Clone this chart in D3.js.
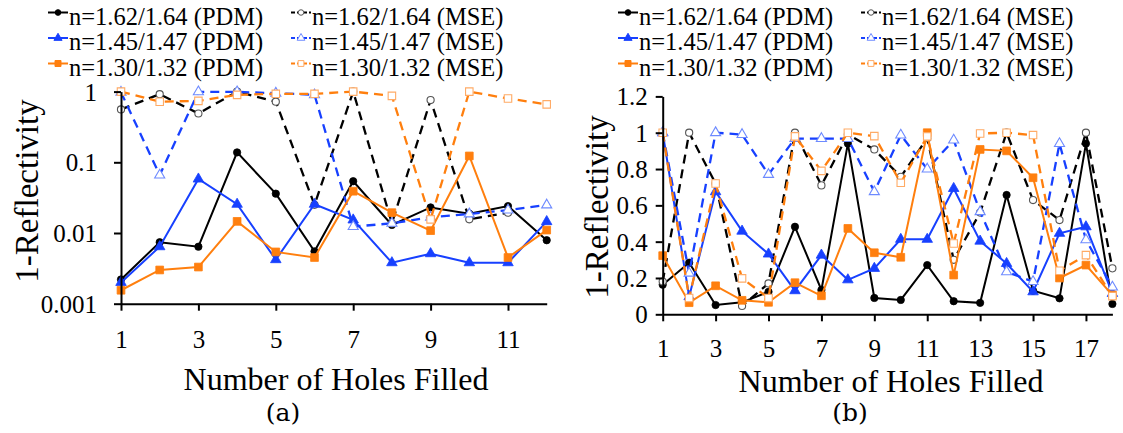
<!DOCTYPE html>
<html><head><meta charset="utf-8">
<script src="https://cdn.jsdelivr.net/npm/d3@7"></script>
<style>body{margin:0;background:#fff}svg{display:block}text{font-family:"Liberation Serif","Times New Roman",serif;fill:#000}</style>
</head><body><svg id="c" width="1123" height="433"></svg>
<script>
// ---------- data ----------
const holesA = [1,2,3,4,5,6,7,8,9,10,11,12];
const holesB = [1,2,3,4,5,6,7,8,9,10,11,12,13,14,15,16,17,18];
const ticksAX = [1,3,5,7,9,11];
const ticksBX = [1,3,5,7,9,11,13,15,17];
const ticksAY = [0.001,0.01,0.1,1];
const ticksAYLabels = ["0.001","0.01","0.1","1"];
const ticksBY = [0,0.2,0.4,0.6,0.8,1,1.2];
const ticksBYLabels = ["0","0.2","0.4","0.6","0.8","1","1.2"];
const seriesNames = ["n=1.62/1.64 (PDM)","n=1.62/1.64 (MSE)","n=1.45/1.47 (PDM)","n=1.45/1.47 (MSE)","n=1.30/1.32 (PDM)","n=1.30/1.32 (MSE)"];
const axisTitleX = "Number of Holes Filled";
const axisTitleY = "1-Reflectivity";
const captions = ["(a)","(b)"];

// panel (a), log scale
const aBlackPDM  = [0.0022,0.0074,0.0064,0.138,0.036,0.0055,0.054,0.013,0.023,0.0188,0.024,0.0079];
const aBlackMSE  = [0.56,0.92,0.49,1.0,0.72,0.025,1.0,0.0137,0.76,0.0156,0.0194,null];
const aBluePDM   = [0.002,0.0064,0.058,0.0255,0.0042,0.0255,0.0153,0.0038,0.0051,0.0038,0.0038,0.0145];
const aBlueMSE   = [0.98,0.066,0.99,0.99,0.95,0.9,0.0123,0.0137,0.0167,0.0186,0.0211,0.0249];
const aOrangePDM = [0.00155,0.003,0.0033,0.0146,0.0054,0.0045,0.039,0.0194,0.0108,0.123,0.0045,0.011];
const aOrangeMSE = [1.0,0.72,0.74,0.9,0.93,0.93,1.0,0.87,0.0156,1.0,0.8,0.66];

// panel (b), linear scale
const bBlackPDM  = [0.163,0.284,0.051,0.066,0.124,0.482,0.134,0.94,0.09,0.079,0.271,0.072,0.063,0.657,0.13,0.088,0.94,0.057];
const bBlackMSE  = [0.18,1.0,0.72,0.046,0.17,1.0,0.71,0.99,0.908,0.757,0.97,0.3,0.56,1.0,0.629,0.519,1.0,0.253];
const bBluePDM   = [1.0,0.097,0.675,0.458,0.332,0.13,0.326,0.19,0.253,0.413,0.413,0.693,0.403,0.28,0.124,0.446,0.482,0.115];
const bBlueMSE   = [1.0,0.226,1.0,0.99,0.77,0.968,0.968,0.968,0.675,0.987,0.8,0.959,0.565,0.234,0.18,0.94,0.41,0.15];
const bOrangePDM = [0.323,0.064,0.157,0.077,0.066,0.174,0.102,0.473,0.339,0.314,1.0,0.216,0.908,0.9,0.752,0.2,0.271,0.106];
const bOrangeMSE = [1.0,0.09,0.72,0.198,0.09,0.98,0.79,1.0,0.981,0.724,0.98,0.39,0.996,1.0,0.987,0.24,0.326,0.1];

// ---------- styles ----------
const styles = [
  {color:"#000000", mk:"#000000", dash:null,  shape:d3.symbolCircle,   size:42, fill:true},
  {color:"#000000", mk:"#555555", dash:"9,6", shape:d3.symbolCircle,   size:40, fill:false},
  {color:"#1740ff", mk:"#1740ff", dash:null,  shape:d3.symbolTriangle, size:48, fill:true},
  {color:"#1740ff", mk:"#6d8aff", dash:"9,6", shape:d3.symbolTriangle, size:44, fill:false},
  {color:"#ff7f0e", mk:"#ff7f0e", dash:null,  shape:d3.symbolSquare,   size:60, fill:true},
  {color:"#ff7f0e", mk:"#ffab66", dash:"9,6", shape:d3.symbolSquare,   size:56, fill:false}
];

const svg = d3.select("#c");

function drawPanel(cfg){
  const g = svg.append("g");
  const x = d3.scaleLinear().domain([cfg.holes[0], cfg.holes[cfg.holes.length-1]]).range(cfg.xRange);
  const y = (cfg.log ? d3.scaleLog() : d3.scaleLinear()).domain(cfg.yDomain).range(cfg.yRange);

  // series
  cfg.series.forEach((vals, i) => {
    const st = styles[i];
    const pts = cfg.holes.map((h, j) => ({h, v: vals[j]}));
    const line = d3.line().defined(d => d.v != null).x(d => x(d.h)).y(d => y(d.v));
    g.append("path").datum(pts).attr("d", line)
      .attr("fill","none").attr("stroke", st.color)
      .attr("stroke-width", st.dash ? 2.3 : 2)
      .attr("stroke-dasharray", st.dash);
    g.selectAll(null).data(pts.filter(d => d.v != null)).enter().append("path")
      .attr("d", d3.symbol().type(st.shape).size(st.size))
      .attr("transform", d => `translate(${x(d.h)},${y(d.v)})`)
      .attr("fill", st.fill ? st.mk : "#fff")
      .attr("stroke", st.mk).attr("stroke-width", st.fill ? 0.8 : 1.1);
  });

  // axes
  const xa = g.append("g").attr("transform",`translate(0,${cfg.yRange[0]})`)
    .call(d3.axisBottom(x).tickValues(cfg.xTicks).tickFormat(d3.format("d")).tickSize(7).tickSizeOuter(0));
  xa.selectAll("text").attr("y", cfg.xLabelY).attr("dy", 0);
  const ya = g.append("g").attr("transform",`translate(${cfg.xRange[0]},0)`)
    .call(d3.axisLeft(y).tickValues(cfg.yTicks).tickFormat((d,i) => cfg.yLabels[i]).tickSize(7).tickSizeOuter(0));
  ya.selectAll("text").attr("x", -cfg.yLabelGap).attr("dy","0.34em");
  [xa, ya].forEach(a => {
    a.selectAll("path,line").attr("stroke","#000").attr("stroke-width",2);
    a.selectAll("text").style("font-family",'"Liberation Serif",serif').style("font-size","25px").attr("fill","#000");
  });

  // titles
  g.append("text").attr("x", cfg.titleX).attr("y", cfg.titleY).attr("text-anchor","middle")
    .style("font-size","32px").text(axisTitleX);
  g.append("text").attr("transform",`translate(${cfg.yTitleX},${cfg.yTitleY}) rotate(-90)`)
    .attr("text-anchor","middle").attr("dy","0.35em").style("font-size","33px").text(axisTitleY);
  g.append("text").attr("x", cfg.capX).attr("y", 421).attr("text-anchor","middle")
    .style("font-size","25px").style("font-family",'"DejaVu Serif","Liberation Serif",serif').text(cfg.caption);

  // legend
  seriesNames.forEach((name, i) => {
    const st = styles[i];
    const col = i % 2, row = Math.floor(i / 2);
    const sx = cfg.legX[col], by = cfg.legY + row * 25.5;
    const ly = by - 12;
    g.append("line").attr("x1", sx).attr("x2", sx + 20).attr("y1", ly).attr("y2", ly)
      .attr("stroke", st.color).attr("stroke-width", 2).attr("stroke-dasharray", st.dash ? "4,2" : null);
    g.append("path").attr("d", d3.symbol().type(st.shape).size(st.size*0.6))
      .attr("transform",`translate(${sx+10},${ly})`)
      .attr("fill", st.fill ? st.mk : "#fff").attr("stroke", st.mk).attr("stroke-width", 1);
    g.append("text").attr("x", sx + 21).attr("y", by).style("font-size","24.5px").text(name);
  });
}

drawPanel({
  holes: holesA, log: true, xRange:[121,546.7], yDomain:[0.001,1], yRange:[303.7,91.6],
  xTicks: ticksAX, yTicks: ticksAY, yLabels: ticksAYLabels, xLabelY: 44, yLabelGap: 24,
  series:[aBlackPDM,aBlackMSE,aBluePDM,aBlueMSE,aOrangePDM,aOrangeMSE],
  titleX: 336, titleY: 390, yTitleX: 26, yTitleY: 191, capX: 283, caption: captions[0],
  legX:[48, 291], legY: 24.5
});
drawPanel({
  holes: holesB, log: false, xRange:[662.7,1112.4], yDomain:[0,1.2], yRange:[314.3,96.4],
  xTicks: ticksBX, yTicks: ticksBY, yLabels: ticksBYLabels, xLabelY: 43, yLabelGap: 15,
  series:[bBlackPDM,bBlackMSE,bBluePDM,bBlueMSE,bOrangePDM,bOrangeMSE],
  titleX: 891, titleY: 392, yTitleX: 596, yTitleY: 207, capX: 850, caption: captions[1],
  legX:[618, 861], legY: 24.5
});
</script></body></html>
